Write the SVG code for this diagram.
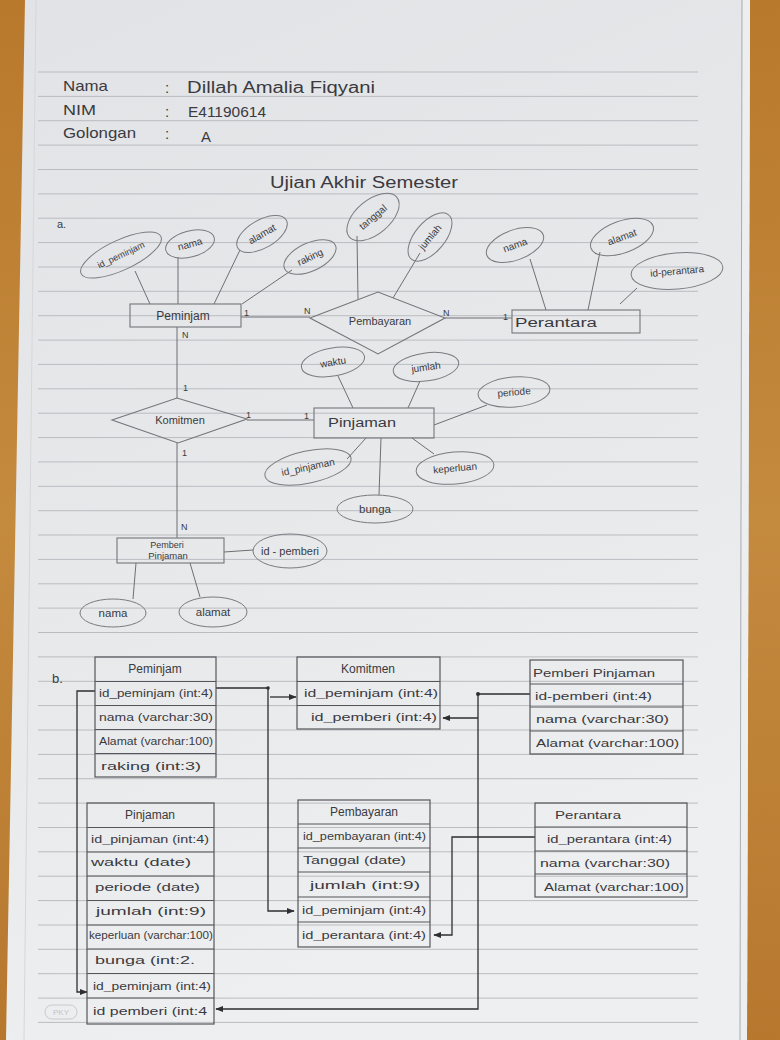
<svg xmlns="http://www.w3.org/2000/svg" width="780" height="1040" viewBox="0 0 780 1040">
<defs>
<linearGradient id="wood" x1="0" y1="0" x2="0" y2="1">
<stop offset="0" stop-color="#b9792c"/><stop offset="0.5" stop-color="#c48a3e"/><stop offset="1" stop-color="#b7782e"/>
</linearGradient>
<linearGradient id="paper" x1="0" y1="0" x2="0.3" y2="1">
<stop offset="0" stop-color="#e2e3e6"/><stop offset="0.6" stop-color="#e8e9eb"/><stop offset="1" stop-color="#eeeff0"/>
</linearGradient>
<marker id="ah" viewBox="0 0 10 10" refX="9" refY="5" markerWidth="6" markerHeight="6" orient="auto">
<path d="M0,1 L10,5 L0,9 z" fill="#2e2e33"/>
</marker>
<style>
text{font-family:"Liberation Sans","DejaVu Sans",sans-serif;fill:#3a3a40}
.hd{font-size:15px}
.er{font-size:10px}
.lb{font-size:12px}
.cd{font-size:9px}
.tb{font-size:11.5px}
.rule{stroke:#b9bcc1;stroke-width:1}
.ell{fill:none;stroke:#7a7b80;stroke-width:1}
.ent{fill:none;stroke:#74757a;stroke-width:1.1}
.ln{stroke:#6e6f74;stroke-width:1;fill:none}
.tbl{fill:none;stroke:#55565b;stroke-width:1.2}
.con{stroke:#2e2e33;stroke-width:1.3;fill:none}
</style>
</defs>
<rect width="780" height="1040" fill="url(#wood)"/>
<polygon points="25,0 750,0 747,1040 6,1040" fill="url(#paper)"/>
<polygon points="742,0 750,0 747,1040 740,1040" fill="#eceef0"/>
<line x1="742" y1="0" x2="740" y2="1040" stroke="#a9abb0" stroke-width="1"/>
<line x1="36" y1="0" x2="24" y2="1040" stroke="#d6d7da" stroke-width="1"/>
<g id="rules">
<line class="rule" x1="38" y1="72" x2="698" y2="72"/>
<line class="rule" x1="38" y1="96.4" x2="698" y2="96.4"/>
<line class="rule" x1="38" y1="120.7" x2="698" y2="120.7"/>
<line class="rule" x1="38" y1="145.1" x2="698" y2="145.1"/>
<line class="rule" x1="38" y1="169.5" x2="698" y2="169.5"/>
<line class="rule" x1="38" y1="193.9" x2="698" y2="193.9"/>
<line class="rule" x1="38" y1="218.2" x2="698" y2="218.2"/>
<line class="rule" x1="38" y1="242.6" x2="698" y2="242.6"/>
<line class="rule" x1="38" y1="267" x2="698" y2="267"/>
<line class="rule" x1="38" y1="291.3" x2="698" y2="291.3"/>
<line class="rule" x1="38" y1="315.7" x2="698" y2="315.7"/>
<line class="rule" x1="38" y1="340.1" x2="698" y2="340.1"/>
<line class="rule" x1="38" y1="364.4" x2="698" y2="364.4"/>
<line class="rule" x1="38" y1="388.8" x2="698" y2="388.8"/>
<line class="rule" x1="38" y1="413.2" x2="698" y2="413.2"/>
<line class="rule" x1="38" y1="437.6" x2="698" y2="437.6"/>
<line class="rule" x1="38" y1="461.9" x2="698" y2="461.9"/>
<line class="rule" x1="38" y1="486.3" x2="698" y2="486.3"/>
<line class="rule" x1="38" y1="510.7" x2="698" y2="510.7"/>
<line class="rule" x1="38" y1="535" x2="698" y2="535"/>
<line class="rule" x1="38" y1="559.4" x2="698" y2="559.4"/>
<line class="rule" x1="38" y1="583.8" x2="698" y2="583.8"/>
<line class="rule" x1="38" y1="608.1" x2="698" y2="608.1"/>
<line class="rule" x1="38" y1="632.5" x2="698" y2="632.5"/>
<line class="rule" x1="38" y1="656.9" x2="698" y2="656.9"/>
<line class="rule" x1="38" y1="681.3" x2="698" y2="681.3"/>
<line class="rule" x1="38" y1="705.6" x2="698" y2="705.6"/>
<line class="rule" x1="38" y1="730" x2="698" y2="730"/>
<line class="rule" x1="38" y1="754.4" x2="698" y2="754.4"/>
<line class="rule" x1="38" y1="778.7" x2="698" y2="778.7"/>
<line class="rule" x1="38" y1="803.1" x2="698" y2="803.1"/>
<line class="rule" x1="38" y1="827.5" x2="698" y2="827.5"/>
<line class="rule" x1="38" y1="851.8" x2="698" y2="851.8"/>
<line class="rule" x1="38" y1="876.2" x2="698" y2="876.2"/>
<line class="rule" x1="38" y1="900.6" x2="698" y2="900.6"/>
<line class="rule" x1="38" y1="925" x2="698" y2="925"/>
<line class="rule" x1="38" y1="949.3" x2="698" y2="949.3"/>
<line class="rule" x1="38" y1="973.7" x2="698" y2="973.7"/>
<line class="rule" x1="38" y1="998.1" x2="698" y2="998.1"/>
<line class="rule" x1="38" y1="1022.4" x2="698" y2="1022.4"/>
</g>
<g id="header">
<text class="hd" x="63" y="91" textLength="45" lengthAdjust="spacingAndGlyphs">Nama</text>
<text class="hd" x="165" y="93">:</text>
<text x="187" y="93" font-size="16" textLength="188" lengthAdjust="spacingAndGlyphs">Dillah Amalia Fiqyani</text>
<text class="hd" x="63" y="115" textLength="33" lengthAdjust="spacingAndGlyphs">NIM</text>
<text class="hd" x="165" y="117">:</text>
<text class="hd" x="188" y="117" textLength="78" lengthAdjust="spacingAndGlyphs">E41190614</text>
<text class="hd" x="63" y="138" textLength="73" lengthAdjust="spacingAndGlyphs">Golongan</text>
<text class="hd" x="165" y="139">:</text>
<text class="hd" x="201" y="142">A</text>
<text x="270" y="188" font-size="16" textLength="188" lengthAdjust="spacingAndGlyphs">Ujian Akhir Semester</text>
<text x="57" y="228" font-size="11">a.</text>
<text x="52" y="683" font-size="13">b.</text>
</g>
<g id="connectors">
<line class="ln" x1="135" y1="271" x2="150" y2="304"/>
<line class="ln" x1="178" y1="257" x2="178" y2="304"/>
<line class="ln" x1="240" y1="250" x2="214" y2="304"/>
<line class="ln" x1="292" y1="270" x2="242" y2="304"/>
<line class="ln" x1="357" y1="236" x2="358" y2="299"/>
<line class="ln" x1="420" y1="253" x2="393" y2="298"/>
<line class="ln" x1="241" y1="317" x2="310" y2="317"/>
<line class="ln" x1="445" y1="318" x2="512" y2="318"/>
<line class="ln" x1="530" y1="259" x2="546" y2="310"/>
<line class="ln" x1="600" y1="252" x2="588" y2="310"/>
<line class="ln" x1="637" y1="288" x2="620" y2="304"/>
<line class="ln" x1="177" y1="327" x2="177" y2="398"/>
<line class="ln" x1="247" y1="420" x2="314" y2="420"/>
<line class="ln" x1="338" y1="376" x2="353" y2="408"/>
<line class="ln" x1="420" y1="381" x2="408" y2="408"/>
<line class="ln" x1="487" y1="405" x2="434" y2="425"/>
<line class="ln" x1="347" y1="459" x2="366" y2="438"/>
<line class="ln" x1="379" y1="495" x2="381" y2="438"/>
<line class="ln" x1="434" y1="454" x2="412" y2="438"/>
<line class="ln" x1="177" y1="443" x2="177" y2="538"/>
<line class="ln" x1="224" y1="552" x2="253" y2="550"/>
<line class="ln" x1="136" y1="563" x2="133" y2="599"/>
<line class="ln" x1="190" y1="563" x2="200" y2="597"/>
<text class="cd" x="244" y="316">1</text>
<text class="cd" x="304" y="314">N</text>
<text class="cd" x="443" y="316">N</text>
<text class="cd" x="503" y="320">1</text>
<text class="cd" x="182" y="338">N</text>
<text class="cd" x="183" y="391">1</text>
<text class="cd" x="246" y="418">1</text>
<text class="cd" x="304" y="419">1</text>
<text class="cd" x="182" y="456">1</text>
<text class="cd" x="181" y="530">N</text>
<path class="con" d="M216,688 H268 V911 H294" marker-end="url(#ah)"/>
<path class="con" d="M270,697 H296" marker-end="url(#ah)"/>
<path class="con" d="M95,691 H77 V992 H87" marker-end="url(#ah)"/>
<path class="con" d="M530,694 H478 V1009 H216" marker-end="url(#ah)"/>
<path class="con" d="M478,718 H443" marker-end="url(#ah)"/>
<path class="con" d="M535,837 H452 V935 H434" marker-end="url(#ah)"/>
<circle cx="268" cy="688" r="1.8" fill="#2e2e33"/>
<circle cx="478" cy="694" r="2" fill="#2e2e33"/>
</g>
<g id="er-peminjam"><rect class="ent" x="130" y="304" width="111" height="23"/><text class="lb" x="183" y="320" text-anchor="middle">Peminjam</text></g>
<g id="er-pembayaran"><polygon class="ent" points="310,318 378,292 445,318 378,354"/><text x="380" y="325" font-size="11" text-anchor="middle">Pembayaran</text></g>
<g id="er-perantara"><rect class="ent" x="512" y="310" width="128" height="23"/><text class="lb" x="515" y="327" textLength="82" lengthAdjust="spacingAndGlyphs">Perantara</text></g>
<g id="er-komitmen"><polygon class="ent" points="112,420 177,398 247,419 178,443"/><text x="180" y="424" font-size="11" text-anchor="middle">Komitmen</text></g>
<g id="er-pinjaman"><rect class="ent" x="314" y="408" width="120" height="30"/><text class="lb" x="328" y="427" textLength="68" lengthAdjust="spacingAndGlyphs">Pinjaman</text></g>
<g id="er-pemberi"><rect class="ent" x="117" y="538" width="107" height="25"/><text x="167" y="548" font-size="9" text-anchor="middle">Pemberi</text><text x="168" y="559" font-size="9.5" text-anchor="middle">Pinjaman</text></g>
<g id="a-id-peminjam" transform="translate(121,255) rotate(-25)"><ellipse class="ell" rx="44" ry="15"/><text x="0" y="3" font-size="9" text-anchor="middle">id_peminjam</text></g>
<g id="a-nama1" transform="translate(190,244) rotate(-15)"><ellipse class="ell" rx="25" ry="13"/><text class="er" x="0" y="3.5" text-anchor="middle">nama</text></g>
<g id="a-alamat1" transform="translate(262,234) rotate(-30)"><ellipse class="ell" rx="28" ry="14"/><text class="er" x="0" y="3.5" text-anchor="middle">alamat</text></g>
<g id="a-raking" transform="translate(310,257) rotate(-25)"><ellipse class="ell" rx="28" ry="14"/><text class="er" x="0" y="3.5" text-anchor="middle">raking</text></g>
<g id="a-tanggal" transform="translate(373,217) rotate(-40)"><ellipse class="ell" rx="31" ry="17"/><text class="er" x="0" y="3.5" text-anchor="middle">tanggal</text></g>
<g id="a-jumlah1" transform="translate(430,237) rotate(-50)"><ellipse class="ell" rx="29" ry="15"/><text class="er" x="0" y="3.5" text-anchor="middle">jumlah</text></g>
<g id="a-nama2" transform="translate(515,245) rotate(-20)"><ellipse class="ell" rx="30" ry="15"/><text class="er" x="0" y="3.5" text-anchor="middle">nama</text></g>
<g id="a-alamat2" transform="translate(622,237) rotate(-20)"><ellipse class="ell" rx="33" ry="16"/><text class="er" x="0" y="3.5" text-anchor="middle">alamat</text></g>
<g id="a-id-perantara" transform="translate(677,271) rotate(-5)"><ellipse class="ell" rx="46" ry="18"/><text class="er" x="0" y="3.5" text-anchor="middle">id-perantara</text></g>
<g id="a-waktu" transform="translate(333,362) rotate(-10)"><ellipse class="ell" rx="32" ry="14"/><text class="er" x="0" y="3.5" text-anchor="middle">waktu</text></g>
<g id="a-jumlah2" transform="translate(426,367) rotate(-8)"><ellipse class="ell" rx="33" ry="14"/><text class="er" x="0" y="3.5" text-anchor="middle">jumlah</text></g>
<g id="a-periode" transform="translate(514,392) rotate(-5)"><ellipse class="ell" rx="36" ry="15"/><text class="er" x="0" y="3.5" text-anchor="middle">periode</text></g>
<g id="a-id-pinjaman" transform="translate(308,467) rotate(-12)"><ellipse class="ell" rx="44" ry="16"/><text class="er" x="0" y="3.5" text-anchor="middle">id_pinjaman</text></g>
<g id="a-bunga" transform="translate(375,509)"><ellipse class="ell" rx="38" ry="14"/><text x="0" y="4" font-size="11.5" text-anchor="middle">bunga</text></g>
<g id="a-keperluan" transform="translate(455,468) rotate(-5)"><ellipse class="ell" rx="39" ry="16"/><text class="er" x="0" y="3.5" text-anchor="middle">keperluan</text></g>
<g id="a-id-pemberi" transform="translate(290,551)"><ellipse class="ell" rx="37" ry="17"/><text x="0" y="4" font-size="11" text-anchor="middle">id - pemberi</text></g>
<g id="a-nama3" transform="translate(113,613)"><ellipse class="ell" rx="33" ry="14"/><text x="0" y="4" font-size="11.5" text-anchor="middle">nama</text></g>
<g id="a-alamat3" transform="translate(213,612)"><ellipse class="ell" rx="34" ry="15"/><text x="0" y="4" font-size="11.5" text-anchor="middle">alamat</text></g>
<g id="t-peminjam">
<rect class="tbl" x="95" y="657" width="121" height="120"/>
<line class="tbl" x1="95" y1="681.5" x2="216" y2="681.5"/><line class="tbl" x1="95" y1="705.5" x2="216" y2="705.5"/><line class="tbl" x1="95" y1="729.5" x2="216" y2="729.5"/><line class="tbl" x1="95" y1="753.5" x2="216" y2="753.5"/>
<text class="lb" x="155" y="673" text-anchor="middle">Peminjam</text>
<text class="tb" x="99" y="697" textLength="114" lengthAdjust="spacingAndGlyphs">id_peminjam (int:4)</text>
<text class="tb" x="99" y="721" textLength="114" lengthAdjust="spacingAndGlyphs">nama (varchar:30)</text>
<text class="tb" x="99" y="745" textLength="114" lengthAdjust="spacingAndGlyphs">Alamat (varchar:100)</text>
<text class="tb" x="101" y="770" textLength="100" lengthAdjust="spacingAndGlyphs">raking (int:3)</text>
</g>
<g id="t-komitmen">
<rect class="tbl" x="297" y="657" width="143" height="72"/>
<line class="tbl" x1="297" y1="681.5" x2="440" y2="681.5"/><line class="tbl" x1="297" y1="705.5" x2="440" y2="705.5"/>
<text class="lb" x="368" y="673" text-anchor="middle">Komitmen</text>
<text class="tb" x="304" y="697" textLength="134" lengthAdjust="spacingAndGlyphs">id_peminjam (int:4)</text>
<text class="tb" x="311" y="721" textLength="126" lengthAdjust="spacingAndGlyphs">id_pemberi (int:4)</text>
</g>
<g id="t-pemberi">
<rect class="tbl" x="530" y="660" width="153" height="94"/>
<line class="tbl" x1="530" y1="684" x2="683" y2="684"/><line class="tbl" x1="530" y1="707" x2="683" y2="707"/><line class="tbl" x1="530" y1="731" x2="683" y2="731"/>
<text class="tb" x="533" y="677" textLength="122" lengthAdjust="spacingAndGlyphs">Pemberi Pinjaman</text>
<text class="tb" x="535" y="700" textLength="117" lengthAdjust="spacingAndGlyphs">id-pemberi (int:4)</text>
<text class="tb" x="536" y="723" textLength="133" lengthAdjust="spacingAndGlyphs">nama (varchar:30)</text>
<text class="tb" x="536" y="747" textLength="143" lengthAdjust="spacingAndGlyphs">Alamat (varchar:100)</text>
</g>
<g id="t-pinjaman">
<rect class="tbl" x="87" y="803" width="127" height="221"/>
<line class="tbl" x1="87" y1="827.5" x2="214" y2="827.5"/><line class="tbl" x1="87" y1="852" x2="214" y2="852"/><line class="tbl" x1="87" y1="876" x2="214" y2="876"/><line class="tbl" x1="87" y1="900.5" x2="214" y2="900.5"/><line class="tbl" x1="87" y1="925" x2="214" y2="925"/><line class="tbl" x1="87" y1="949" x2="214" y2="949"/><line class="tbl" x1="87" y1="973.5" x2="214" y2="973.5"/><line class="tbl" x1="87" y1="998" x2="214" y2="998"/>
<text class="lb" x="150" y="819" text-anchor="middle">Pinjaman</text>
<text class="tb" x="91" y="843" textLength="118" lengthAdjust="spacingAndGlyphs">id_pinjaman (int:4)</text>
<text class="tb" x="91" y="866" textLength="100" lengthAdjust="spacingAndGlyphs">waktu (date)</text>
<text class="tb" x="95" y="891" textLength="105" lengthAdjust="spacingAndGlyphs">periode (date)</text>
<text class="tb" x="96" y="915" textLength="110" lengthAdjust="spacingAndGlyphs">jumlah (int:9)</text>
<text class="tb" x="89" y="939" textLength="124" lengthAdjust="spacingAndGlyphs">keperluan (varchar:100)</text>
<text class="tb" x="95" y="964" textLength="100" lengthAdjust="spacingAndGlyphs">bunga (int:2.</text>
<text class="tb" x="93" y="990" textLength="118" lengthAdjust="spacingAndGlyphs">id_peminjam (int:4)</text>
<text class="tb" x="93" y="1015" textLength="114" lengthAdjust="spacingAndGlyphs">id pemberi (int:4</text>
</g>
<g id="t-pembayaran">
<rect class="tbl" x="298" y="800" width="132" height="147"/>
<line class="tbl" x1="298" y1="824" x2="430" y2="824"/><line class="tbl" x1="298" y1="848" x2="430" y2="848"/><line class="tbl" x1="298" y1="872" x2="430" y2="872"/><line class="tbl" x1="298" y1="897" x2="430" y2="897"/><line class="tbl" x1="298" y1="922" x2="430" y2="922"/>
<text class="lb" x="364" y="816" text-anchor="middle">Pembayaran</text>
<text class="tb" x="303" y="840" textLength="123" lengthAdjust="spacingAndGlyphs">id_pembayaran (int:4)</text>
<text class="tb" x="303" y="864" textLength="103" lengthAdjust="spacingAndGlyphs">Tanggal (date)</text>
<text class="tb" x="310" y="889" textLength="110" lengthAdjust="spacingAndGlyphs">jumlah (int:9)</text>
<text class="tb" x="302" y="914" textLength="124" lengthAdjust="spacingAndGlyphs">id_peminjam (int:4)</text>
<text class="tb" x="302" y="939" textLength="124" lengthAdjust="spacingAndGlyphs">id_perantara (int:4)</text>
</g>
<g id="t-perantara">
<rect class="tbl" x="535" y="803" width="152" height="94"/>
<line class="tbl" x1="535" y1="827" x2="687" y2="827"/><line class="tbl" x1="535" y1="851" x2="687" y2="851"/><line class="tbl" x1="535" y1="874" x2="687" y2="874"/>
<text class="tb" x="555" y="819" textLength="66" lengthAdjust="spacingAndGlyphs">Perantara</text>
<text class="tb" x="547" y="843" textLength="125" lengthAdjust="spacingAndGlyphs">id_perantara (int:4)</text>
<text class="tb" x="540" y="867" textLength="130" lengthAdjust="spacingAndGlyphs">nama (varchar:30)</text>
<text class="tb" x="544" y="891" textLength="140" lengthAdjust="spacingAndGlyphs">Alamat (varchar:100)</text>
</g>
<g id="stamp"><rect x="45" y="1005" width="32" height="14" rx="7" fill="none" stroke="#c9cacd"/><text x="61" y="1015" font-size="8" text-anchor="middle" style="fill:#c3c4c7">PKY</text></g>
</svg>
